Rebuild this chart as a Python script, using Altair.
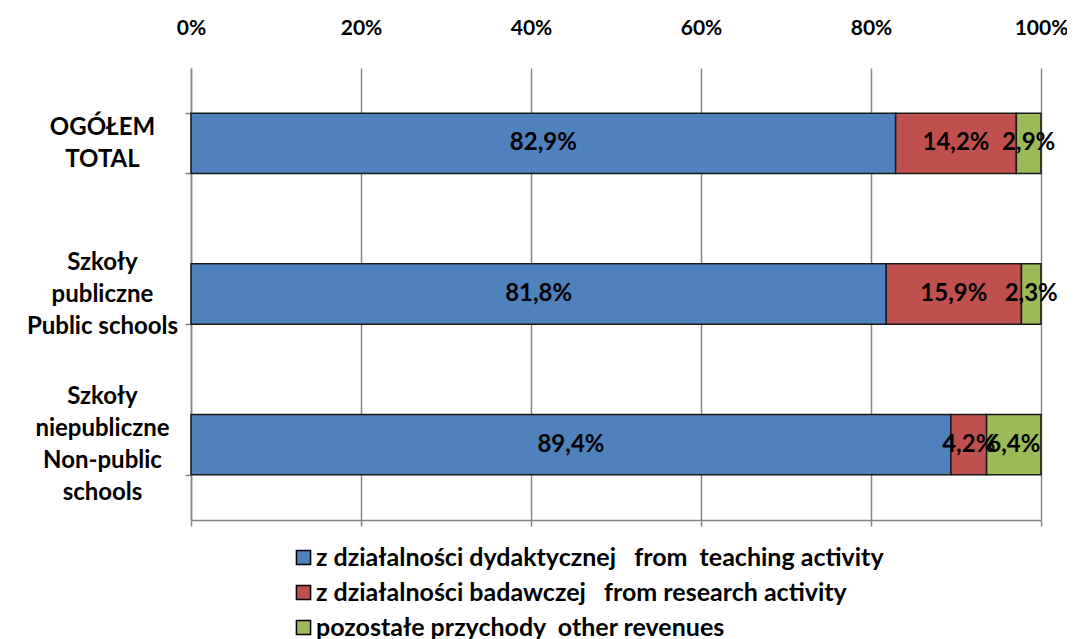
import altair as alt
import pandas as pd

categories = ["OGÓŁEM|TOTAL", "Szkoły|publiczne|Public schools", "Szkoły|niepubliczne|Non-public|schools"]
series = [
    "z działalności dydaktycznej\u00a0\u00a0 from\u00a0 teaching activity",
    "z działalności badawczej\u00a0\u00a0 from research activity",
    "pozostałe przychody\u00a0 other revenues",
]
teaching = [82.9, 81.8, 89.4]
research = [14.2, 15.9, 4.2]
other = [2.9, 2.3, 6.4]
colors = ["#4F81BD", "#C0504D", "#9BBB59"]
x_ticks = [0, 0.2, 0.4, 0.6, 0.8, 1.0]

rows = []
for i, c in enumerate(categories):
    for j, (s, vals) in enumerate(zip(series, [teaching, research, other])):
        rows.append({"cat": c, "series": s, "order": j, "value": vals[i]})
df = pd.DataFrame(rows)

FONT = "Lato"
GRID = "#868686"
LH = 32

base = alt.Chart(df).transform_stack(
    stack="value", groupby=["cat"], as_=["x0", "x1"], sort=[alt.SortField("order")]
).transform_calculate(
    xs0="datum.x0/100",
    xs1="datum.x1/100",
    xm="(datum.x0+datum.x1)/200",
    lab="replace(format(datum.value, '.1f'), '.', ',') + '%'",
)

label_offset = {
    "condition": [
        {"test": "indexof(datum.label, 'niepubliczne') >= 0", "value": -1.5 * LH},
        {"test": "indexof(datum.label, 'publiczne') >= 0", "value": -1.0 * LH},
    ],
    "value": -0.5 * LH,
}

y_enc = alt.Y(
    "cat:N",
    sort=categories,
    scale=alt.Scale(paddingInner=0.6, paddingOuter=0.3),
    axis=alt.Axis(
        title=None,
        labelExpr="split(datum.label, '|')",
        labelAlign="center",
        labelBaseline="middle",
        labelPadding=83,
        labelOffset=label_offset,
        labelLineHeight=LH,
        tickBand="extent",
        domainColor=GRID,
        tickColor=GRID,
        tickSize=6,
        tickWidth=1.5,
        domainWidth=1.5,
        labelFont=FONT,
        labelFontSize=24,
        labelFontWeight="bold",
        labelColor="black",
        labelLimit=300,
        grid=False,
    ),
)

bars = base.mark_bar(stroke="#1a1a1a", strokeWidth=1.5).encode(
    x=alt.X(
        "xs0:Q",
        scale=alt.Scale(domain=[0, 1]),
        axis=alt.Axis(
            orient="top",
            format=".0%",
            values=x_ticks,
            grid=True,
            gridColor=GRID,
            gridWidth=1.5,
            domain=False,
            ticks=False,
            title=None,
            labelFlush=False,
            labelFont=FONT,
            labelFontSize=21,
            labelFontWeight="bold",
            labelColor="black",
            labelPadding=30,
        ),
    ),
    x2="xs1:Q",
    y=y_enc,
    color=alt.Color(
        "series:N",
        scale=alt.Scale(domain=series, range=colors),
        legend=alt.Legend(
            title=None,
            orient="none",
            legendX=100,
            legendY=477,
            direction="vertical",
            symbolType="square",
            symbolSize=200,
            symbolStrokeColor="black",
            symbolStrokeWidth=1.5,
            symbolOpacity=1,
            labelFont=FONT,
            labelFontSize=25,
            labelFontWeight="bold",
            labelColor="black",
            labelLimit=900,
            rowPadding=9,
            labelOffset=0,
        ),
    ),
)

text = base.mark_text(font=FONT, fontSize=24, fontWeight="bold", color="black").encode(
    x=alt.X(
        "xm:Q",
        axis=alt.Axis(
            orient="bottom",
            labels=False,
            ticks=True,
            tickSize=6,
            tickColor=GRID,
            tickWidth=1.5,
            domain=True,
            domainColor=GRID,
            domainWidth=1.5,
            grid=False,
            title=None,
            values=x_ticks,
        ),
    ),
    y=alt.Y("cat:N", sort=categories),
    text="lab:N",
)

chart = (
    alt.layer(bars, text)
    .resolve_axis(x="independent")
    .properties(
        width=850,
        height=452,
        autosize=alt.AutoSizeParams(type="none"),
        padding={"left": 183, "top": 60, "right": 26, "bottom": 128},
    )
    .configure_view(stroke=None)
)

chart.save("out.html", embed_options={"renderer": "svg", "actions": False})
